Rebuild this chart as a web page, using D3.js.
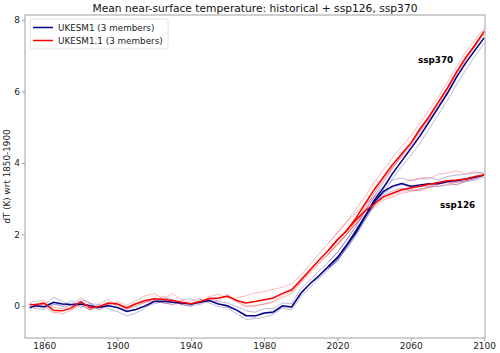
<!DOCTYPE html>
<html>
<head>
<meta charset="utf-8">
<script src="https://cdn.jsdelivr.net/npm/d3@7"></script>
<style>
  body { margin: 0; background: #fff; }
  text { font-family: 'DejaVu Sans', sans-serif; }
</style>
</head>
<body>
<div id="chart"></div>
<script>
// years for the historical run and the scenario runs
const histYears = [1852, 1855, 1860, 1865, 1870, 1875, 1880, 1885, 1890, 1895, 1900, 1905, 1910, 1915, 1920, 1925, 1930, 1935, 1940, 1945, 1950, 1955, 1960, 1965, 1970, 1975, 1980, 1985, 1990, 1995, 2000, 2005, 2010, 2015]
const sspYears = [2015, 2020, 2025, 2030, 2035, 2040, 2045, 2050, 2055, 2060, 2065, 2070, 2075, 2080, 2085, 2090, 2095, 2100]

// UKESM1 historical (mean + members)
const ukesm1Hist = [-0.05, 0.00, -0.03, 0.10, 0.05, 0.04, 0.05, 0.00, -0.04, 0.00, -0.05, -0.16, -0.10, 0.00, 0.12, 0.13, 0.10, 0.08, 0.05, 0.10, 0.15, 0.05, 0.00, -0.12, -0.27, -0.28, -0.20, -0.17, 0.00, -0.03, 0.35, 0.62, 0.85, 1.10]
const ukesm1HistMembers = [
  [-0.12, 0.06, 0.02, 0.24, 0.12, -0.02, 0.18, 0.08, -0.12, 0.08, 0.04, -0.08, -0.02, 0.10, 0.20, 0.08, 0.04, 0.16, 0.20, 0.08, 0.22, 0.12, 0.08, -0.02, -0.14, -0.18, -0.08, -0.08, 0.08, 0.06, 0.48, 0.72, 0.98, 1.22],
  [0.02, -0.08, -0.10, 0.04, 0.02, 0.14, -0.04, 0.06, 0.04, -0.08, -0.16, -0.28, -0.20, -0.06, 0.12, 0.22, 0.18, 0.04, -0.02, 0.18, 0.08, -0.02, -0.06, -0.22, -0.38, -0.36, -0.32, -0.24, -0.06, -0.12, 0.26, 0.52, 0.78, 1.02],
  [-0.06, 0.02, -0.02, 0.06, -0.02, 0.02, 0.00, -0.10, -0.06, 0.02, -0.04, -0.14, -0.10, -0.02, 0.06, 0.12, 0.14, 0.04, 0.00, 0.04, 0.16, 0.06, -0.04, -0.12, -0.30, -0.32, -0.22, -0.20, -0.02, -0.06, 0.32, 0.62, 0.80, 1.06]
]

// UKESM1.1 historical (mean + members)
const ukesm11Hist = [0.04, 0.03, 0.08, -0.12, -0.14, -0.05, 0.12, -0.05, -0.02, 0.08, 0.05, -0.05, 0.06, 0.15, 0.20, 0.18, 0.15, 0.10, 0.06, 0.12, 0.20, 0.22, 0.27, 0.15, 0.08, 0.12, 0.17, 0.22, 0.35, 0.45, 0.72, 1.00, 1.28, 1.55]
const ukesm11HistMembers = [
  [0.10, 0.12, 0.16, -0.04, -0.08, 0.04, 0.24, 0.06, -0.10, 0.02, 0.12, 0.02, 0.14, 0.28, 0.34, 0.20, 0.34, 0.18, 0.02, 0.10, 0.26, 0.32, 0.22, 0.22, 0.28, 0.36, 0.40, 0.46, 0.52, 0.62, 0.86, 1.16, 1.46, 1.75],
  [-0.02, -0.06, 0.06, -0.16, -0.22, -0.12, 0.08, -0.12, 0.06, 0.18, -0.02, -0.10, 0.02, 0.10, 0.14, 0.28, 0.10, 0.04, 0.14, 0.20, 0.12, 0.14, 0.32, 0.10, -0.02, 0.02, 0.04, 0.12, 0.30, 0.40, 0.64, 0.92, 1.20, 1.45],
  [0.06, 0.02, 0.02, -0.20, -0.12, -0.10, 0.04, -0.12, 0.00, 0.04, 0.06, -0.10, 0.06, 0.12, 0.14, 0.08, 0.04, 0.08, 0.06, 0.08, 0.24, 0.20, 0.30, 0.14, 0.00, -0.02, 0.06, 0.10, 0.24, 0.34, 0.66, 0.96, 1.20, 1.45]
]

// ssp370
const ukesm1Ssp370 = [1.10, 1.35, 1.70, 2.10, 2.50, 2.95, 3.30, 3.70, 4.05, 4.40, 4.75, 5.15, 5.55, 5.95, 6.40, 6.80, 7.15, 7.50]
const ukesm1Ssp370Members = [
  [1.22, 1.50, 1.85, 2.25, 2.65, 3.05, 3.45, 3.85, 4.20, 4.55, 4.90, 5.30, 5.70, 6.10, 6.55, 6.95, 7.25, 7.62],
  [1.02, 1.30, 1.60, 2.00, 2.40, 2.82, 3.15, 3.55, 3.90, 4.20, 4.55, 4.95, 5.35, 5.75, 6.20, 6.60, 6.98, 7.35],
  [1.06, 1.25, 1.65, 2.05, 2.45, 2.92, 3.25, 3.70, 4.05, 4.40, 4.78, 5.18, 5.58, 5.98, 6.42, 6.82, 7.18, 7.48]
]
const ukesm11Ssp370 = [1.55, 1.85, 2.10, 2.45, 2.85, 3.25, 3.60, 3.95, 4.25, 4.55, 4.95, 5.30, 5.70, 6.10, 6.55, 6.95, 7.30, 7.68]
const ukesm11Ssp370Members = [
  [1.75, 2.05, 2.35, 2.70, 3.05, 3.45, 3.80, 4.15, 4.45, 4.75, 5.12, 5.48, 5.85, 6.25, 6.70, 7.10, 7.45, 7.75],
  [1.45, 1.75, 2.00, 2.35, 2.75, 3.15, 3.50, 3.85, 4.20, 4.50, 4.90, 5.25, 5.68, 6.05, 6.50, 6.92, 7.28, 7.62],
  [1.45, 1.70, 2.00, 2.30, 2.70, 3.15, 3.55, 3.90, 4.15, 4.45, 4.85, 5.22, 5.62, 6.05, 6.48, 6.88, 7.25, 7.68]
]

// ssp126
const ukesm1Ssp126 = [1.10, 1.35, 1.70, 2.05, 2.50, 2.90, 3.20, 3.35, 3.42, 3.35, 3.38, 3.42, 3.42, 3.48, 3.50, 3.55, 3.60, 3.66]
const ukesm1Ssp126Members = [
  [1.22, 1.50, 1.85, 2.20, 2.65, 3.05, 3.35, 3.52, 3.58, 3.50, 3.55, 3.60, 3.52, 3.62, 3.66, 3.68, 3.72, 3.72],
  [1.02, 1.30, 1.60, 1.95, 2.40, 2.80, 3.10, 3.22, 3.30, 3.22, 3.28, 3.32, 3.34, 3.38, 3.40, 3.48, 3.52, 3.60],
  [1.06, 1.25, 1.65, 2.00, 2.45, 2.85, 3.15, 3.30, 3.40, 3.30, 3.35, 3.35, 3.42, 3.45, 3.46, 3.50, 3.56, 3.65]
]
const ukesm11Ssp126 = [1.55, 1.85, 2.10, 2.40, 2.65, 2.85, 3.05, 3.15, 3.25, 3.30, 3.35, 3.40, 3.45, 3.50, 3.52, 3.55, 3.62, 3.66]
const ukesm11Ssp126Members = [
  [1.75, 2.05, 2.35, 2.60, 2.85, 3.05, 3.22, 3.35, 3.42, 3.52, 3.58, 3.55, 3.68, 3.72, 3.78, 3.70, 3.76, 3.70],
  [1.45, 1.75, 2.00, 2.30, 2.55, 2.75, 2.95, 3.05, 3.15, 3.20, 3.25, 3.35, 3.35, 3.40, 3.45, 3.50, 3.55, 3.65],
  [1.45, 1.70, 2.00, 2.30, 2.55, 2.80, 3.00, 3.10, 3.20, 3.25, 3.22, 3.30, 3.40, 3.45, 3.38, 3.50, 3.60, 3.65]
]

const xTicks = [1860, 1900, 1940, 1980, 2020, 2060, 2100]
const yTicks = [0, 2, 4, 6, 8]
const legendLabels = ['UKESM1 (3 members)', 'UKESM1.1 (3 members)']

const width = 500
const height = 353
const margin = { top: 15, right: 15, bottom: 15, left: 25 }
const blue = '#00008b'
const red = '#ff0000'

const svg = d3.select('#chart').append('svg').attr('width', width).attr('height', height)

const x = d3.scaleLinear().domain([1849.5, 2100.5]).range([margin.left, width - margin.right])
const y = d3.scaleLinear().domain([-0.9, 8.14]).range([height - margin.bottom, margin.top])

const line = d3.line().x((d) => x(d[0])).y((d) => y(d[1]))
const pairs = (years, vals) => years.map((yr, i) => [yr, vals[i]])

const plot = svg.append('g')

function drawRun(years, mean, members, color) {
  members.forEach((m) => {
    plot.append('path')
      .attr('d', line(pairs(years, m)))
      .attr('fill', 'none')
      .attr('stroke', color)
      .attr('stroke-opacity', 0.28)
      .attr('stroke-width', 1)
  })
  return () => plot.append('path')
    .attr('d', line(pairs(years, mean)))
    .attr('fill', 'none')
    .attr('stroke', color)
    .attr('stroke-width', 1.5)
}

// thin members first, then the means on top
const means = [
  drawRun(histYears, ukesm1Hist, ukesm1HistMembers, blue),
  drawRun(sspYears, ukesm1Ssp126, ukesm1Ssp126Members, blue),
  drawRun(sspYears, ukesm1Ssp370, ukesm1Ssp370Members, blue),
  drawRun(histYears, ukesm11Hist, ukesm11HistMembers, red),
  drawRun(sspYears, ukesm11Ssp126, ukesm11Ssp126Members, red),
  drawRun(sspYears, ukesm11Ssp370, ukesm11Ssp370Members, red)
]
means.forEach((f) => f())

// frame
svg.append('rect')
  .attr('x', margin.left).attr('y', margin.top)
  .attr('width', width - margin.left - margin.right)
  .attr('height', height - margin.top - margin.bottom)
  .attr('fill', 'none').attr('stroke', '#a0a0a0').attr('stroke-width', 1)

const xAxis = svg.append('g')
  .attr('transform', `translate(0,${height - margin.bottom})`)
  .call(d3.axisBottom(x).tickValues(xTicks).tickSize(3).tickPadding(2).tickFormat(d3.format('d')))
const yAxis = svg.append('g')
  .attr('transform', `translate(${margin.left},0)`)
  .call(d3.axisLeft(y).tickValues(yTicks).tickSize(3).tickPadding(2))
;[xAxis, yAxis].forEach((a) => {
  a.select('.domain').remove()
  a.selectAll('line').attr('stroke', '#a0a0a0')
  a.selectAll('text').attr('fill', '#222').style('font-size', '9px').style('font-family', 'DejaVu Sans')
})

svg.append('text')
  .attr('x', (margin.left + width - margin.right) / 2).attr('y', 12)
  .attr('text-anchor', 'middle').attr('font-size', 10.7).attr('fill', '#111')
  .text('Mean near-surface temperature: historical + ssp126, ssp370')

svg.append('text')
  .attr('transform', `translate(10,${(margin.top + height - margin.bottom) / 2}) rotate(-90)`)
  .attr('text-anchor', 'middle').attr('font-size', 8.8).attr('fill', '#222')
  .text('dT (K) wrt 1850-1900')

svg.append('text').attr('x', x(2064)).attr('y', 63)
  .attr('font-size', 8.8).attr('font-weight', 'bold').text('ssp370')
svg.append('text').attr('x', x(2076)).attr('y', 208)
  .attr('font-size', 8.8).attr('font-weight', 'bold').text('ssp126')

// legend
const legend = svg.append('g').attr('transform', 'translate(30,19)')
legend.append('rect').attr('width', 138).attr('height', 30).attr('rx', 2)
  .attr('fill', '#fff').attr('stroke', '#dddddd').attr('stroke-width', 0.8)
legendLabels.forEach((lab, i) => {
  const yy = 8.5 + i * 13
  legend.append('line').attr('x1', 3).attr('x2', 23).attr('y1', yy).attr('y2', yy)
    .attr('stroke', [blue, red][i]).attr('stroke-width', 1.5)
  legend.append('text').attr('x', 28).attr('y', yy + 3.2).attr('font-size', 8.8).attr('fill', '#222').text(lab)
})
</script>
</body>
</html>
